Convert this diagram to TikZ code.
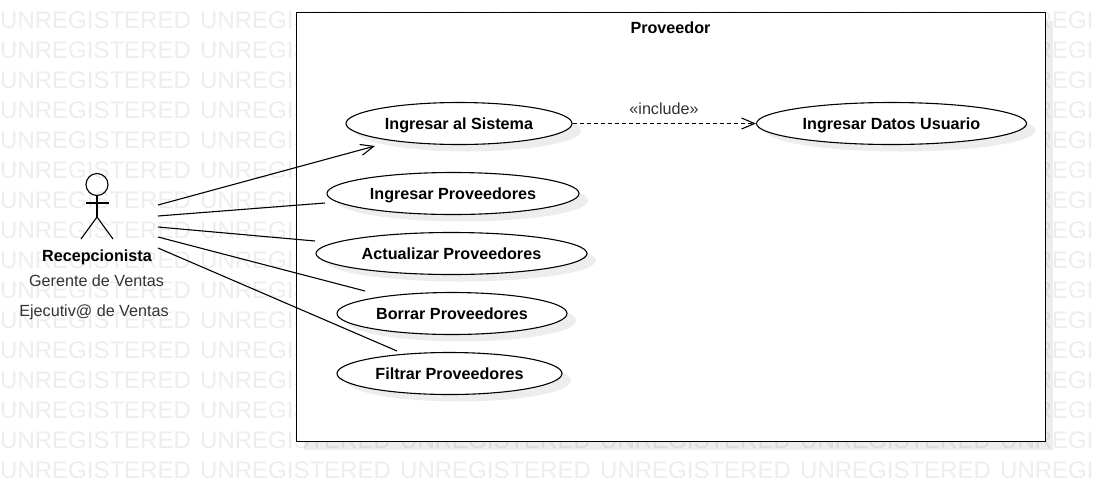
\documentclass[tikz,border=0pt]{standalone}
\usepackage{fontspec}
\setmainfont{Liberation Sans}
\usetikzlibrary{arrows.meta,shadows,shapes.geometric}
\definecolor{markgray}{gray}{0.93}
\definecolor{notegray}{gray}{0.2}
\tikzset{
  label16/.style={text height=11.6pt,text depth=0pt,font=\fontsize{16.15}{18}\selectfont},
  boldlabel/.style={text height=11.6pt,text depth=0pt,font=\fontsize{16.15}{18}\selectfont\bfseries},
  usecase/.style={ellipse,draw,line width=1.1pt,fill=white,inner sep=0pt,minimum height=42pt,boldlabel,
    drop shadow={shadow xshift=9pt,shadow yshift=-7pt,opacity=0.07,fill=black}},
  sysbox/.style={rectangle,draw,line width=1pt,fill=white,inner sep=0pt,
    drop shadow={shadow xshift=8pt,shadow yshift=-9pt,opacity=0.07,fill=black}},
  notetext/.style={label16,text=notegray},
  assoc/.style={line width=1.1pt},
  >={Straight Barb[length=13pt,width=11pt,line width=1.1pt]}
}
\begin{document}
\begin{tikzpicture}[x=1pt,y=-1pt]
\useasboundingbox (0,0) rectangle (1095,491);
\begin{scope}
\clip (0,0) rectangle (1095,491);
\foreach \yy in {20,50,...,470}
  \foreach \xx in {0,200,...,1000}
    \node[anchor=west,inner sep=0pt,text=markgray,font=\fontsize{24}{26}\selectfont] at (\xx,\yy) {UNREGISTERED};
\end{scope}
\node[sysbox,minimum width=749pt,minimum height=429pt] (proveedor) at (670.5,226.5) {};
\node[boldlabel] (titulo) at (670.5,27.5) {Proveedor};
\node[usecase,minimum width=226pt] (sistema) at (459,123.5) {Ingresar al Sistema};
\node[usecase,minimum width=270pt] (datos) at (891.5,123.5) {Ingresar Datos Usuario};
\node[usecase,minimum width=252pt] (ingresar) at (453,193.5) {Ingresar Proveedores};
\node[usecase,minimum width=271pt] (actualizar) at (451.5,253.5) {Actualizar Proveedores};
\node[usecase,minimum width=230pt] (borrar) at (452,313.5) {Borrar Proveedores};
\node[usecase,minimum width=225pt] (filtrar) at (449.5,373.5) {Filtrar Proveedores};
% actor
\node[circle,draw,line width=1.1pt,minimum size=22pt,inner sep=0pt] (cabeza) at (97,184.5) {};
\coordinate (cadera) at (97,217);
\coordinate (brazoa) at (85.5,203);
\coordinate (brazob) at (108.5,203);
\coordinate (piea) at (81,239);
\coordinate (pieb) at (113,239);
\draw[assoc] (cabeza.south)--(cadera);
\draw[assoc] (brazoa)--(brazob);
\draw[assoc] (piea)--(cadera)--(pieb);
\node[boldlabel] (recepcionista) at (97,255.5) {Recepcionista};
\node[notetext] (gerente) at (96.5,280.5) {Gerente de Ventas};
\node[notetext] (ejecutivo) at (94,310.5) {Ejecutiv@ de Ventas};
% connectors
\coordinate (a1) at (158,205);
\coordinate (a2) at (158,216);
\coordinate (a3) at (158,227);
\coordinate (a4) at (158,237);
\coordinate (a5) at (158,248);
\coordinate (c1) at (375,146);
\coordinate (c2) at (325,203);
\coordinate (c3) at (315,241);
\coordinate (c4) at (365,291);
\coordinate (c5) at (397,351);
\draw[assoc,->] (a1)--(c1);
\draw[assoc] (a2)--(c2);
\draw[assoc] (a3)--(c3);
\draw[assoc] (a4)--(c4);
\draw[assoc] (a5)--(c5);
\draw[line width=1pt,dash pattern=on 4pt off 3pt,->] (sistema.east)--(datos.west);
\node[notetext] (incluye) at (664,108.5) {«include»};
\end{tikzpicture}
\end{document}
